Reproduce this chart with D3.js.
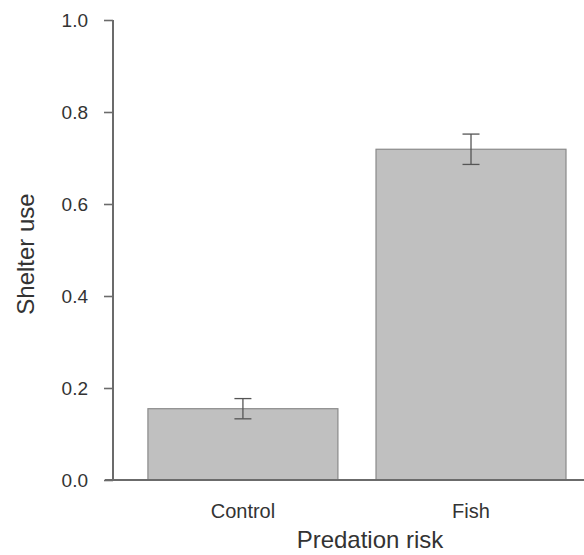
<!DOCTYPE html>
<html>
<head>
<meta charset="utf-8">
<script src="https://cdn.jsdelivr.net/npm/d3@7"></script>
<style>
  html, body { margin: 0; padding: 0; background: #fff; }
  svg { display: block; font-family: "Liberation Sans", Arial, sans-serif; }
</style>
</head>
<body>
<script>
const categories = ["Control", "Fish"];
const means = [0.155, 0.719];
const errors = [0.022, 0.033];
const yTicks = [0.0, 0.2, 0.4, 0.6, 0.8, 1.0];
const xTitle = "Predation risk";
const yTitle = "Shelter use";

const W = 584, H = 555;
const svg = d3.select("body").append("svg").attr("width", W).attr("height", H);

const x0 = 113, xEnd = 584, yTop = 20, yBot = 480;
const y = d3.scaleLinear().domain([0, 1]).range([yBot, yTop]);
const x = d3.scaleBand().domain(categories).range([x0, xEnd])
  .paddingInner(0.167).paddingOuter(0.116).align(0.66);

const axisColor = "#6b6b6b";
const textColor = "#333";

// bars
svg.selectAll("rect.bar").data(categories).join("rect")
  .attr("class", "bar")
  .attr("x", d => x(d))
  .attr("width", x.bandwidth())
  .attr("y", (d, i) => y(means[i]))
  .attr("height", (d, i) => y(0) - y(means[i]))
  .attr("fill", "#c0c0c0")
  .attr("stroke", "#8a8a8a")
  .attr("stroke-width", 1.2);

// error bars
const cap = 8.5;
const eb = svg.selectAll("g.eb").data(categories).join("g").attr("class", "eb")
  .attr("stroke", "#555").attr("stroke-width", 1.3);
eb.append("line")
  .attr("x1", d => x(d) + x.bandwidth() / 2).attr("x2", d => x(d) + x.bandwidth() / 2)
  .attr("y1", (d, i) => y(means[i] + errors[i])).attr("y2", (d, i) => y(means[i] - errors[i]));
eb.append("line")
  .attr("x1", d => x(d) + x.bandwidth() / 2 - cap).attr("x2", d => x(d) + x.bandwidth() / 2 + cap)
  .attr("y1", (d, i) => y(means[i] + errors[i])).attr("y2", (d, i) => y(means[i] + errors[i]));
eb.append("line")
  .attr("x1", d => x(d) + x.bandwidth() / 2 - cap).attr("x2", d => x(d) + x.bandwidth() / 2 + cap)
  .attr("y1", (d, i) => y(means[i] - errors[i])).attr("y2", (d, i) => y(means[i] - errors[i]));

// y axis
const yAxis = svg.append("g").attr("transform", `translate(${x0},0)`)
  .call(d3.axisLeft(y).tickValues(yTicks).tickFormat(d3.format(".1f")).tickSize(9).tickPadding(16));
yAxis.select(".domain").remove();
yAxis.selectAll(".tick line").attr("stroke", axisColor).attr("stroke-width", 1.6);
yAxis.selectAll(".tick text").attr("fill", textColor).style("font-size", "19px")
  .style("font-family", "Liberation Sans, Arial, sans-serif");
svg.append("line").attr("x1", x0).attr("x2", x0).attr("y1", yTop).attr("y2", yBot)
  .attr("stroke", axisColor).attr("stroke-width", 2);

// x axis
const xAxis = svg.append("g").attr("transform", `translate(0,${yBot})`)
  .call(d3.axisBottom(x).tickSize(0).tickPadding(24));
xAxis.select(".domain").remove();
xAxis.selectAll(".tick text").attr("fill", textColor).style("font-size", "20px")
  .style("font-family", "Liberation Sans, Arial, sans-serif");
svg.append("line").attr("x1", x0 - 8).attr("x2", xEnd).attr("y1", yBot).attr("y2", yBot)
  .attr("stroke", axisColor).attr("stroke-width", 2);

// titles
svg.append("text").attr("x", 370).attr("y", 548).attr("text-anchor", "middle")
  .attr("fill", textColor).style("font-size", "24px").text(xTitle);
svg.append("text").attr("transform", "translate(34,254) rotate(-90)").attr("text-anchor", "middle")
  .attr("fill", textColor).style("font-size", "24px").text(yTitle);
</script>
</body>
</html>
